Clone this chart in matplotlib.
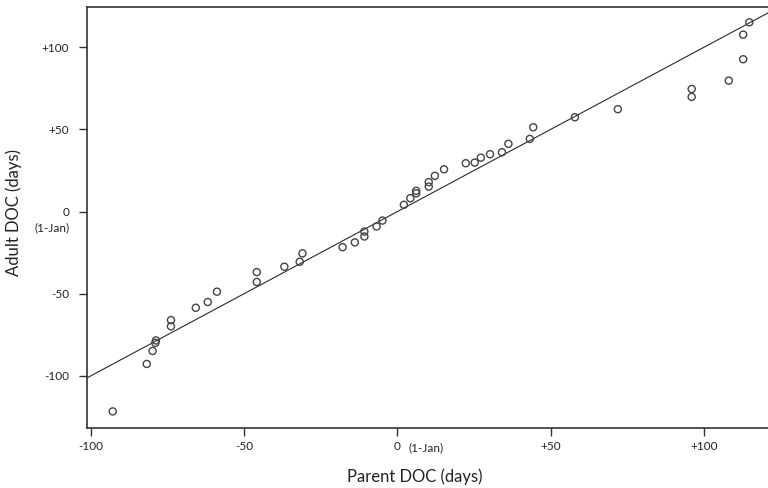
import matplotlib
matplotlib.use("Agg")
import matplotlib.pyplot as plt
import numpy as np

plt.rcParams['font.family'] = ['Lato', 'DejaVu Sans']

# Data (days relative to 1-Jan)
parent_doc = [-92.9, -81.8, -79.9, -79.0, -78.8, -73.9, -73.9, -65.8, -61.9, -58.9,
              -45.9, -45.9, -36.9, -31.9, -31.0, -17.9, -13.9, -10.8, -10.8, -6.8,
              -4.9, 2.1, 4.2, 6.1, 6.1, 10.2, 10.2, 12.2, 15.2, 22.3,
              25.2, 27.2, 30.2, 34.1, 36.2, 43.2, 44.3, 57.9, 71.9, 96.0,
              96.0, 108.1, 112.8, 112.8, 114.8]
adult_doc = [-121.7, -92.8, -84.9, -80.0, -78.5, -69.9, -66.1, -58.6, -55.1, -48.8,
             -36.9, -42.9, -33.6, -30.6, -25.5, -21.7, -18.8, -15.2, -12.2, -9.1,
             -5.5, 4.1, 8.1, 11.1, 12.6, 15.2, 17.9, 21.7, 25.7, 29.4,
             29.8, 32.8, 34.9, 36.1, 41.2, 44.2, 51.3, 57.4, 62.3, 74.6,
             69.8, 79.7, 92.7, 107.7, 115.2]

# 1:1 reference line
line_slope = 1.0
line_intercept = 0.0

x_ticks = [-100, -50, 0, 50, 100]
x_tick_labels = ['-100', '-50', '0', '+50', '+100']
y_ticks = [-100, -50, 0, 50, 100]
y_tick_labels = ['-100', '-50', '0', '+50', '+100']

fig = plt.figure(figsize=(7.68, 4.88), dpi=100)
ax = fig.add_axes([87.3 / 768, 60 / 488, 1 - 87.3 / 768, (428 - 6.7) / 488])

xmin, xmax = -101.2, 120.9
ymin, ymax = -131.8, 124.7

lx = np.array([xmin, xmax])
ax.plot(lx, line_slope * lx + line_intercept, color='#2a2a2a', lw=0.8, zorder=2)

ax.scatter(parent_doc, adult_doc, s=26, facecolors='none', edgecolors='#444444',
           linewidths=1.0, zorder=3)

ax.set_xlim(xmin, xmax)
ax.set_ylim(ymin, ymax)

ax.set_xticks(x_ticks)
ax.set_xticklabels(x_tick_labels)
ax.set_yticks(y_ticks)
ax.set_yticklabels(y_tick_labels)

ax.tick_params(axis='both', direction='out', length=6, width=1.0, colors='#333333',
               labelsize=8.5, labelcolor='#222222')
ax.tick_params(axis='x', pad=3)
ax.tick_params(axis='y', pad=7)

for s in ['left', 'bottom', 'top']:
    ax.spines[s].set_color('#333333')
    ax.spines[s].set_linewidth(1.2)
ax.spines['right'].set_visible(False)

# "(1-Jan)" annotations at zero
ax.annotate('(1-Jan)', xy=(0, 0), xycoords=('axes fraction', 'data'),
            xytext=(-13, -12), textcoords='offset points', ha='right', va='center',
            fontsize=8.5, color='#222222', annotation_clip=False)
ax.annotate('(1-Jan)', xy=(0, 0), xycoords=('data', 'axes fraction'),
            xytext=(8, -14.5), textcoords='offset points', ha='left', va='center',
            fontsize=8.5, color='#222222', annotation_clip=False)

ax.set_xlabel('Parent DOC (days)', fontsize=12, color='#222222')
ax.set_ylabel('Adult DOC (days)', fontsize=12, color='#222222')
ax.xaxis.set_label_coords((415 - 87.3) / (768 - 87.3), -(468 - 428) / (428 - 6.7))
ax.yaxis.set_label_coords(-(87.3 - 22) / (768 - 87.3), (428 - 212) / (428 - 6.7))

fig.savefig('out.png', dpi=100)
